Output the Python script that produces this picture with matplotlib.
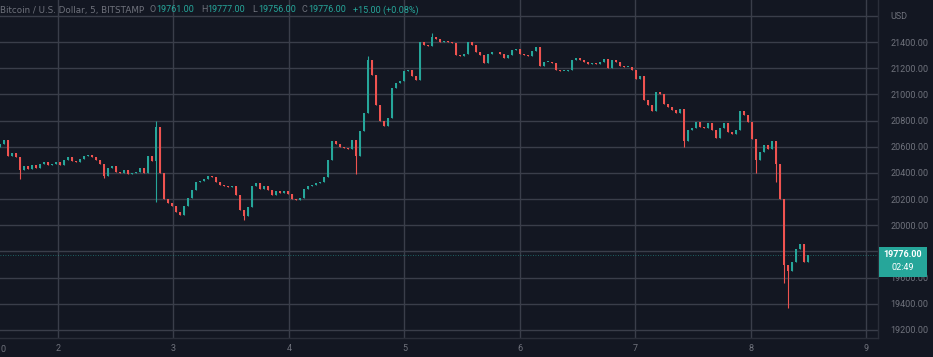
import numpy as np
import matplotlib
matplotlib.use("Agg")
import matplotlib.pyplot as plt
from matplotlib.patches import Rectangle
from matplotlib.transforms import blended_transform_factory

plt.rcParams['font.family'] = ['Roboto', 'DejaVu Sans']

# closing prices, one candle every ~50 minutes
closes = [
    20620, 20650, 20530, 20550, 20520, 20420, 20450, 20430, 20460, 20440,
    20470, 20480, 20460, 20470, 20480, 20460, 20500, 20520, 20490, 20480,
    20510, 20530, 20540, 20520, 20500, 20470, 20380, 20440, 20450, 20410,
    20400, 20420, 20390, 20400, 20410, 20440, 20400, 20530, 20490, 20750,
    20400, 20200, 20170, 20150, 20100, 20080, 20150, 20210, 20270, 20330,
    20340, 20350, 20380, 20370, 20330, 20310, 20300, 20290, 20300, 20230,
    20120, 20070, 20140, 20300, 20320, 20280, 20300, 20270, 20230, 20260,
    20250, 20260, 20240, 20200, 20190, 20210, 20280, 20300, 20310, 20320,
    20330, 20370, 20500, 20640, 20620, 20600, 20590, 20580, 20650, 20530,
    20720, 20860, 21260, 21150, 20920, 20800, 20760, 20820, 21050, 21090,
    21100, 21180, 21190, 21140, 21110, 21400, 21380, 21370, 21440, 21420,
    21400, 21410, 21400, 21390, 21300, 21290, 21310, 21400, 21380, 21320,
    21300, 21240, 21310, 21320, 21320, 21310, 21280, 21300, 21340, 21350,
    21310, 21300, 21290, 21330, 21360, 21220, 21250, 21250, 21240, 21190,
    21180, 21180, 21190, 21260, 21280, 21260, 21250, 21230, 21240, 21230,
    21250, 21270, 21200, 21260, 21250, 21220, 21210, 21210, 21190, 21120,
    21140, 20960, 20920, 20870, 21020, 21000, 20930, 20900, 20880, 20860,
    20890, 20640, 20730, 20740, 20790, 20750, 20740, 20780, 20730, 20670,
    20740, 20780, 20710, 20700, 20730, 20870, 20840, 20790, 20660, 20500,
    20560, 20610, 20580, 20640, 20470, 20200, 19700, 19650, 19720, 19820,
    19860, 19720, 19776,
]
first_open = 20600

# long wicks that stand out
spike_idx = [5, 26, 39, 61, 89, 92, 108, 171, 189, 194, 196, 197]
spike_high = [None, None, 20800, None, None, 21290, 21470, None, None, None, None, None]
spike_low = [20350, 20360, 20180, 20040, 20390, None, None, 20600, 20400, 20330, 19560, 19370]

day_ticks = [2, 3, 4, 5, 6, 7, 8, 9]
price_ticks = [19200, 19400, 19600, 19800, 20000, 20200, 20400, 20600, 20800,
               21000, 21200, 21400, 21600]
last_price = 19776

bg = '#131722'
grid_c = '#3a3e4a'
text_c = '#6f727c'
up_c = '#26a69a'
down_c = '#ef5350'

W, H = 933, 357
fig = plt.figure(figsize=(W / 100, H / 100), dpi=100, facecolor=bg)
ax = fig.add_axes([0, 19 / H, 878 / W, 338 / H])
ax.set_facecolor(bg)

step = 4 / 115.5
t = 1.498 + step * np.arange(len(closes))
opens = np.concatenate([[first_open], closes[:-1]])
closes = np.array(closes, dtype=float)
highs = np.maximum(opens, closes)
lows = np.minimum(opens, closes)
for i, hi, lo in zip(spike_idx, spike_high, spike_low):
    if hi is not None:
        highs[i] = max(highs[i], hi)
    if lo is not None:
        lows[i] = min(lows[i], lo)

colors = np.where(closes >= opens, up_c, down_c)
ax.vlines(t, lows, highs, colors=colors, linewidth=0.8, zorder=3)
body = np.maximum(np.abs(closes - opens), 6)
ax.bar(t, body, bottom=np.minimum(opens, closes), width=step * 0.6,
       color=colors, linewidth=0, zorder=3)

ax.axhline(last_price, color=up_c, linewidth=0.6, linestyle=(0, (1, 2)), alpha=0.7, zorder=2)

ax.set_xlim(1.498, 9.0996)
ax.set_ylim(19138.6, 21721)

ax.set_xticks(day_ticks)
ax.set_xticklabels([str(d) for d in day_ticks])
ax.set_yticks(price_ticks)
ylabels = ['%.2f' % p for p in price_ticks]
ylabels[-1] = 'USD'
ylabels[price_ticks.index(19800)] = ''  # covered by the last price box
ax.set_yticklabels(ylabels)
ax.yaxis.tick_right()
ax.tick_params(axis='both', length=0, colors=text_c, labelsize=6.5)
ax.tick_params(axis='y', pad=9)
ax.tick_params(axis='x', pad=4)
ax.grid(True, color=grid_c, linewidth=1.0)
ax.set_axisbelow(True)

for s in ['left', 'top']:
    ax.spines[s].set_visible(False)
for s in ['right', 'bottom']:
    ax.spines[s].set_color('#2a2e39')
    ax.spines[s].set_linewidth(1.0)

# stray label at the left edge of the time axis
fig.text(3 / W, 1 - 349 / H, '0', color=text_c, fontsize=6.5, ha='center', va='center')

# last price box on the price scale
tr = blended_transform_factory(fig.transFigure, ax.transData)
ax.add_patch(Rectangle((879 / W, last_price - 170), 48 / W, 228, transform=tr,
                       facecolor=up_c, edgecolor='none', clip_on=False, zorder=5))
ax.text(903 / W, last_price, '%.2f' % last_price, transform=tr, color='white',
        fontsize=6.5, fontweight='bold', ha='center', va='center', zorder=6, clip_on=False)
ax.text(903 / W, last_price - 100, '02:49', transform=tr, color='white',
        fontsize=6.5, ha='center', va='center', zorder=6, clip_on=False)

# legend line at the top
hy = 1 - 10 / H
title = fig.text(0, hy, 'Bitcoin / U.S. Dollar, 5, BITSTAMP', color=text_c,
                 fontsize=7, va='center', family='DejaVu Sans')
r = fig.canvas.get_renderer()
wpx = title.get_window_extent(r).width
title.set_fontsize(7 * 145 / wpx)
parts = [(150, 'O', '19761.00'), (201, 'H', '19777.00'), (252, 'L', '19756.00'), (302, 'C', '19776.00')]
for px, letter, val in parts:
    fig.text(px / W, hy, letter, color=text_c, fontsize=6.5, va='center')
    fig.text((px + 6) / W, hy, val, color=up_c, fontsize=6.5, va='center')
fig.text(353 / W, hy, '+15.00 (+0.08%)', color=up_c, fontsize=6.5, va='center')

fig.savefig('out.png', dpi=100, facecolor=bg)
